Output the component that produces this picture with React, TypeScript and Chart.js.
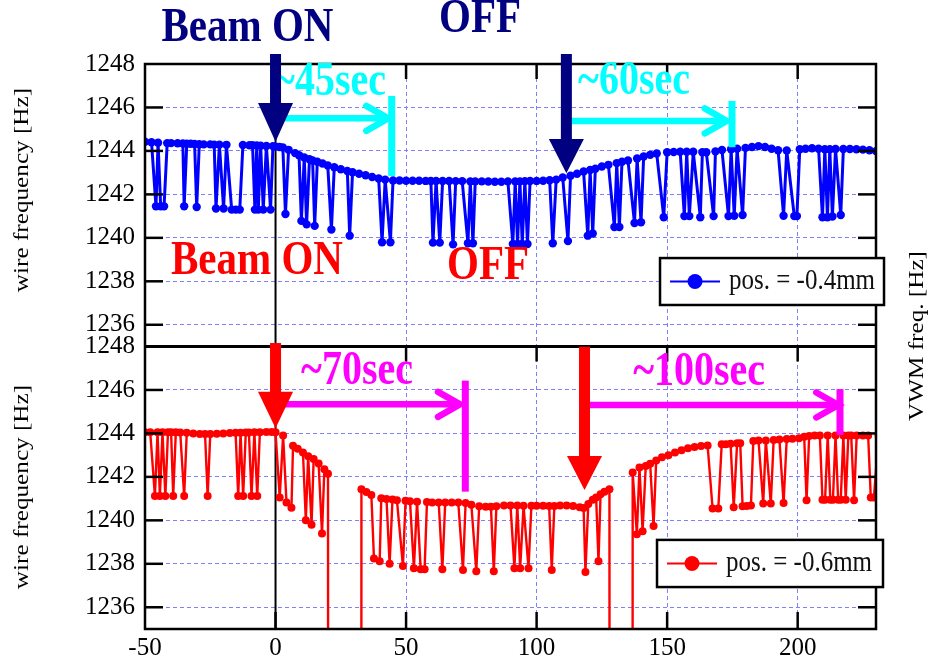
import React, { useEffect, useRef } from 'react';
import { Chart, registerables } from 'chart.js';

Chart.register(...registerables);

// ---------- data ----------
const xTicks = [-50, 0, 50, 100, 150, 200];
const yTicks = [1236, 1238, 1240, 1242, 1244, 1246, 1248];

// top panel: pos. = -0.4mm  [time (s), frequency (Hz)]
const bluePoints: [number, number][] = [
  [-50, 1244.42], [-47.5, 1244.4], [-45.8, 1241.45], [-45, 1244.38], [-44, 1241.45], [-42.7, 1241.45], [-41.5, 1244.36],
  [-40, 1244.36], [-37.5, 1244.35], [-35.5, 1244.34], [-35, 1241.45], [-34, 1244.33], [-32.5, 1244.33], [-31, 1244.32],
  [-30.2, 1241.42], [-29.2, 1244.31], [-27.5, 1244.3], [-25, 1244.3], [-23.5, 1244.29], [-22.8, 1241.35], [-21.5, 1244.29],
  [-19.9, 1241.35], [-18.8, 1244.28], [-16.8, 1241.3], [-15.2, 1241.3], [-13.7, 1241.3], [-12.5, 1244.27], [-10, 1244.26],
  [-8.8, 1244.26], [-7.9, 1241.3], [-7.2, 1244.25], [-6.6, 1241.3], [-5.7, 1244.24], [-4.7, 1241.3], [-3.5, 1244.23],
  [-1.9, 1241.3], [-1, 1244.22], [0, 1244.2], [1.5, 1244.18], [2.8, 1244.16], [3.8, 1241.1], [5, 1244.05], [7.5, 1243.9],
  [9, 1243.8], [9.9, 1240.78], [11, 1243.7], [11.9, 1240.62], [13, 1243.62], [14.2, 1243.56], [15, 1240.55], [16, 1243.5],
  [18, 1243.42], [20, 1243.33], [21.4, 1240.38], [22.5, 1243.25], [25, 1243.16], [27.5, 1243.08], [28.4, 1240.1],
  [29.5, 1243.02], [32, 1242.95], [34.5, 1242.88], [37, 1242.8], [39.5, 1242.73], [40.8, 1239.8], [42, 1242.68],
  [44, 1239.8], [45, 1242.64], [47.5, 1242.64], [50, 1242.63], [52.5, 1242.63], [55, 1242.63], [57.5, 1242.62],
  [59.5, 1242.62], [60.3, 1239.78], [61.5, 1242.62], [62.9, 1239.78], [64, 1242.62], [66.5, 1242.62], [68, 1239.7],
  [69, 1242.61], [71.5, 1242.61], [73.7, 1239.75], [74.6, 1242.6], [75.6, 1239.75], [76.5, 1242.6], [79, 1242.6],
  [81.5, 1242.59], [84, 1242.58], [86.5, 1242.58], [89, 1242.6], [90.9, 1239.72], [91.8, 1242.6], [92.7, 1239.72],
  [93.6, 1242.6], [94.5, 1239.72], [95.5, 1242.61], [96.5, 1239.72], [97.5, 1242.62], [100, 1242.62], [102.5, 1242.63],
  [105, 1242.65], [106.2, 1239.75], [107.5, 1242.68], [110, 1242.78], [112, 1239.85], [113, 1242.86], [115.5, 1242.95],
  [118, 1243.05], [119.6, 1240.1], [120.5, 1243.12], [121.5, 1240.2], [122.5, 1243.18], [125, 1243.28], [127.5, 1243.36],
  [129.8, 1240.5], [130.7, 1243.44], [131.7, 1240.5], [132.7, 1243.5], [135, 1243.56], [137.5, 1240.68], [138.5, 1243.65],
  [140, 1240.72], [141, 1243.74], [143.5, 1243.82], [146, 1243.88], [148.7, 1240.95], [150, 1243.94], [152.5, 1243.95],
  [155, 1243.96], [156.6, 1241.0], [157.5, 1243.96], [158.5, 1241.0], [160, 1243.96], [162.7, 1240.95], [163.5, 1243.94],
  [165, 1243.94], [167.8, 1241.0], [168.5, 1243.98], [171, 1244.04], [173.5, 1241.0], [174.5, 1244.08], [175.7, 1241.02],
  [176.8, 1244.1], [178.9, 1241.05], [180, 1244.14], [182.5, 1244.18], [185, 1244.22], [187.5, 1244.18], [190, 1244.1],
  [192.5, 1244.03], [194.6, 1241.02], [195.8, 1244.02], [198.7, 1241.0], [199.7, 1241.0], [200.8, 1244.08], [203, 1244.1],
  [205.5, 1244.12], [208, 1244.1], [209.5, 1240.95], [210.4, 1244.08], [211.4, 1240.95], [212.3, 1244.08], [213.3, 1240.98],
  [214.5, 1244.09], [216.5, 1241.05], [217.5, 1244.09], [220, 1244.09], [222.5, 1244.08], [225, 1244.06], [227.5, 1244.03],
  [230, 1243.99],
];

// bottom panel: pos. = -0.6mm  [time (s), frequency (Hz)]; 1100 = off-scale reading
const redPoints: [number, number][] = [
  [-50, 1244.05], [-48, 1244.05], [-46.2, 1241.12], [-45.2, 1244.05], [-44.3, 1241.12], [-43.3, 1244.05], [-42.2, 1241.12],
  [-41.2, 1244.05], [-40, 1244.05], [-39.2, 1241.12], [-38.2, 1244.05], [-36.5, 1244.04], [-35, 1241.12], [-34, 1244.03],
  [-31.5, 1244.0], [-29, 1243.97], [-27, 1243.97], [-26, 1241.12], [-25, 1243.97], [-22.5, 1243.98], [-20, 1244.0],
  [-17.5, 1244.02], [-15.3, 1244.03], [-14.3, 1241.12], [-13.4, 1244.03], [-12.4, 1241.12], [-11.4, 1244.04],
  [-10.2, 1244.04], [-9.2, 1241.12], [-8.1, 1244.05], [-7, 1241.12], [-6, 1244.05], [-3.5, 1244.06], [-1.5, 1244.06],
  [0, 1244.05], [1.6, 1241.05], [2.9, 1243.9], [4.2, 1240.82], [6.1, 1240.58], [6.7, 1243.43], [8.5, 1243.3],
  [10.5, 1243.12], [11.6, 1240.0], [12.5, 1242.95], [13.8, 1239.8], [14.6, 1242.82], [16.5, 1242.62], [17.8, 1239.4],
  [18.7, 1242.35], [20.1, 1242.15], [20.6, 1100], [32.5, 1100], [32.9, 1241.43], [34.8, 1241.3], [36.7, 1241.17],
  [37.7, 1238.25], [39.9, 1238.12], [40.5, 1241.02], [42.5, 1240.98], [43.7, 1238.0], [44.8, 1240.96], [46.5, 1240.92],
  [48.8, 1237.9], [49.8, 1240.9], [51.5, 1240.88], [53, 1237.8], [54.2, 1240.86], [55.6, 1237.75], [57.1, 1237.75],
  [58, 1240.84], [60, 1240.82], [62.5, 1240.82], [63.9, 1237.75], [65, 1240.82], [67.5, 1240.82], [70, 1240.82],
  [71.8, 1237.72], [72.8, 1240.8], [75, 1240.72], [76.9, 1237.66], [78, 1240.65], [80.5, 1240.63], [82.5, 1240.63],
  [83.6, 1237.66], [84.6, 1240.65], [87.5, 1240.68], [90, 1240.68], [91.5, 1237.8], [92.6, 1240.68], [93.7, 1237.8],
  [95, 1240.67], [96.9, 1237.8], [98, 1240.67], [100, 1240.67], [102.5, 1240.67], [104.8, 1240.66], [105.8, 1237.72],
  [106.8, 1240.66], [109, 1240.68], [111.5, 1240.68], [114, 1240.66], [116.5, 1240.6], [118, 1240.57], [118.7, 1237.62],
  [119.8, 1240.75], [121.5, 1240.95], [122.8, 1241.05], [123.7, 1238.12], [124.5, 1241.2], [126, 1241.32],
  [127.9, 1241.43], [128.3, 1100], [136.4, 1100], [136.8, 1242.2], [138.4, 1239.36], [139.4, 1242.43], [140.6, 1239.5],
  [141.8, 1242.5], [143.5, 1242.6], [144.8, 1239.74], [145.8, 1242.75], [148, 1242.9], [150.5, 1243.0], [153, 1243.12],
  [155.5, 1243.22], [158, 1243.32], [160.5, 1243.38], [163, 1243.42], [165.5, 1243.45], [167.4, 1240.55],
  [169.6, 1240.55], [170.9, 1243.5], [172.5, 1243.5], [174.3, 1243.52], [175.5, 1240.6], [176.8, 1243.55],
  [178, 1243.55], [178.9, 1240.65], [180.5, 1240.66], [182.1, 1240.68], [183, 1243.65], [185, 1243.67],
  [186.8, 1240.77], [187.8, 1243.68], [189.7, 1240.77], [190.8, 1243.7], [193, 1243.72], [194.6, 1240.8],
  [195.8, 1243.74], [198, 1243.76], [200.5, 1243.78], [202.5, 1243.85], [203.4, 1240.92], [204.4, 1243.88],
  [206.5, 1243.9], [208.5, 1243.9], [209.5, 1240.95], [210.5, 1240.95], [211.5, 1243.9], [212.5, 1240.95],
  [213.5, 1240.95], [214.5, 1243.9], [215.5, 1240.95], [216.5, 1240.95], [217.5, 1243.9], [218.4, 1240.95],
  [219.4, 1243.9], [220.5, 1243.9], [221.6, 1240.92], [222.6, 1243.9], [225, 1243.9], [227, 1243.9], [228, 1241.05],
  [229.2, 1241.05], [231, 1243.9],
];

// ---------- styles ----------
const SERIF = '"Liberation Serif", "Times New Roman", Times, serif';
const NAVY = '#000080';
const BLUE = '#0000ff';
const RED = '#ff0000';
const CYAN = '#00ffff';
const MAGENTA = '#ff00ff';
const GRID = '#8080ff';
const SY = 1.2; // vertical stretch of lettering in the original figure

// annotation anchors (data coordinates)
const beamArrows = [
  { axis: 'yTop', t: 0, top: 1248.46, head: 1246.2, tip: 1244.42, color: NAVY },
  { axis: 'yTop', t: 111.4, top: 1248.46, head: 1244.55, tip: 1242.97, color: NAVY },
  { axis: 'yBot', t: 0, top: 1248.16, head: 1245.92, tip: 1244.24, color: RED },
  { axis: 'yBot', t: 118.35, top: 1247.99, head: 1242.96, tip: 1241.4, color: RED },
];
const spans = [
  { axis: 'yTop', from: 0, to: 43.19, y: 1245.5, bar: 44.5, barTop: 1246.53, barBottom: 1242.85, color: CYAN, label: '~45sec', lx: 42.31, ly: 1247.13 },
  { axis: 'yTop', from: 111.4, to: 172.82, y: 1245.38, bar: 174.85, barTop: 1246.3, barBottom: 1244.17, color: CYAN, label: '~60sec', lx: 158.75, ly: 1247.17 },
  { axis: 'yBot', from: 0, to: 70.66, y: 1245.34, bar: 72.69, barTop: 1246.43, barBottom: 1241.32, color: MAGENTA, label: '~70sec', lx: 52.65, ly: 1246.83 },
  { axis: 'yBot', from: 118.35, to: 215.56, y: 1245.31, bar: 216.21, barTop: 1246.04, barBottom: 1243.93, color: MAGENTA, label: '~100sec', lx: 187.49, ly: 1246.78 },
];
const eventLabels = [
  { axis: 'yTop', t: -10.74, v: 1249.66, text: 'Beam ON', color: NAVY },
  { axis: 'yTop', t: 78.32, v: 1250.07, text: 'OFF', color: NAVY },
  { axis: 'yTop', t: -7.1, v: 1238.93, text: 'Beam ON', color: RED },
  { axis: 'yTop', t: 81.38, v: 1238.7, text: 'OFF', color: RED },
];
const legends = [
  { axis: 'yTop', t1: 147.27, v1: 1239.07, t2: 233.07, v2: 1236.91, color: BLUE, text: 'pos. = -0.4mm' },
  { axis: 'yBot', t1: 146.12, v1: 1239.1, t2: 232.68, v2: 1236.93, color: RED, text: 'pos. = -0.6mm' },
];

function drawText(ctx: any, s: string, x: number, y: number, size: number, color: string, align: string, bold: boolean, rot = 0) {
  ctx.save();
  ctx.translate(x, y);
  if (rot) {
    ctx.rotate(rot);
    ctx.scale(SY, 1);
  } else {
    ctx.scale(1, SY);
  }
  ctx.font = `${bold ? 'bold ' : ''}${size}px ${SERIF}`;
  ctx.fillStyle = color;
  ctx.textAlign = align;
  ctx.textBaseline = 'middle';
  ctx.fillText(s, 0, 0);
  ctx.restore();
}

function seg(ctx: any, x1: number, y1: number, x2: number, y2: number) {
  ctx.beginPath();
  ctx.moveTo(x1, y1);
  ctx.lineTo(x2, y2);
  ctx.stroke();
}

const decoPlugin = {
  id: 'deco',
  beforeDatasetsDraw(chart: any) {
    const { ctx, chartArea: a, scales } = chart;
    const x0 = scales.x.getPixelForValue(0);
    ctx.save();
    ctx.strokeStyle = '#000';
    ctx.lineWidth = 2;
    seg(ctx, x0, a.top, x0, a.bottom);
    ctx.restore();
  },
  afterDraw(chart: any) {
    const { ctx, chartArea: a, scales } = chart;
    const xs = scales.x;
    const panels = [scales.yTop, scales.yBot];
    ctx.save();

    // frame + inward ticks
    ctx.strokeStyle = '#000';
    ctx.lineWidth = 2.5;
    ctx.strokeRect(a.left, a.top, a.right - a.left, a.bottom - a.top);
    ctx.lineWidth = 3;
    seg(ctx, a.left, scales.yTop.bottom, a.right, scales.yTop.bottom);
    ctx.lineWidth = 2.5;
    panels.forEach((ys: any, i: number) => {
      yTicks.forEach((v) => {
        if (v >= 1248) return;
        const py = ys.getPixelForValue(v);
        seg(ctx, a.left, py, a.left + 18, py);
        seg(ctx, a.right - 18, py, a.right, py);
      });
      xTicks.forEach((t) => {
        if (t <= -50) return;
        const px = xs.getPixelForValue(t);
        seg(ctx, px, ys.top, px, ys.top + 15);
        if (i === 1) seg(ctx, px, ys.bottom, px, ys.bottom - 17);
      });
    });

    // axis titles
    drawText(ctx, 'wire frequency [Hz]', 22, 190, 21, '#000', 'center', false, -Math.PI / 2);
    drawText(ctx, 'wire frequency [Hz]', 22, 487, 21, '#000', 'center', false, -Math.PI / 2);
    drawText(ctx, 'VWM freq. [Hz]', 917, 336, 21, '#000', 'center', false, -Math.PI / 2);

    // span arrows with labels
    spans.forEach((s) => {
      const ys = scales[s.axis];
      const x1 = xs.getPixelForValue(s.from);
      const x2 = xs.getPixelForValue(s.to);
      const y = ys.getPixelForValue(s.y);
      ctx.strokeStyle = s.color;
      ctx.lineWidth = 6.5;
      ctx.lineCap = 'butt';
      seg(ctx, x1, y, x2 - 2, y);
      ctx.lineJoin = 'miter';
      ctx.lineCap = 'round';
      ctx.beginPath();
      ctx.moveTo(x2 - 22, y - 12.5);
      ctx.lineTo(x2, y);
      ctx.lineTo(x2 - 22, y + 12.5);
      ctx.stroke();
      ctx.lineCap = 'butt';
      ctx.lineWidth = 7;
      const bx = xs.getPixelForValue(s.bar);
      seg(ctx, bx, ys.getPixelForValue(s.barTop), bx, ys.getPixelForValue(s.barBottom));
      drawText(ctx, s.label, xs.getPixelForValue(s.lx), ys.getPixelForValue(s.ly), 40, s.color, 'right', true);
    });

    // event labels
    eventLabels.forEach((e) => {
      const ys = scales[e.axis];
      drawText(ctx, e.text, xs.getPixelForValue(e.t), ys.getPixelForValue(e.v), 41, e.color, 'center', true);
    });

    // beam arrows
    beamArrows.forEach((b) => {
      const ys = scales[b.axis];
      const x = xs.getPixelForValue(b.t);
      const yTop = ys.getPixelForValue(b.top);
      const yHead = ys.getPixelForValue(b.head);
      const yTip = ys.getPixelForValue(b.tip);
      ctx.fillStyle = b.color;
      ctx.fillRect(x - 5.5, yTop, 11, yHead - yTop + 1);
      ctx.beginPath();
      ctx.moveTo(x - 17.5, yHead);
      ctx.lineTo(x + 17.5, yHead);
      ctx.lineTo(x, yTip);
      ctx.closePath();
      ctx.fill();
    });

    // legends
    legends.forEach((l) => {
      const ys = scales[l.axis];
      const x1 = xs.getPixelForValue(l.t1);
      const x2 = xs.getPixelForValue(l.t2);
      const y1 = ys.getPixelForValue(l.v1);
      const y2 = ys.getPixelForValue(l.v2);
      ctx.fillStyle = '#fff';
      ctx.fillRect(x1, y1, x2 - x1, y2 - y1);
      ctx.strokeStyle = '#000';
      ctx.lineWidth = 2.5;
      ctx.strokeRect(x1, y1, x2 - x1, y2 - y1);
      const cy = (y1 + y2) / 2;
      ctx.strokeStyle = l.color;
      ctx.lineWidth = 2;
      seg(ctx, x1 + 10, cy, x1 + 60, cy);
      ctx.fillStyle = l.color;
      ctx.beginPath();
      ctx.arc(x1 + 35, cy, 7.5, 0, Math.PI * 2);
      ctx.fill();
      drawText(ctx, l.text, x1 + 69, cy, 25, '#111', 'left', false);
    });

    ctx.restore();
  },
};

function yAxis(weight: number) {
  return {
    type: 'linear',
    position: 'left',
    stack: 'panels',
    stackWeight: 1,
    weight,
    min: 1235,
    max: 1248,
    afterBuildTicks: (s: any) => {
      s.ticks = yTicks.map((v) => ({ value: v }));
    },
    afterFit: (s: any) => {
      s.width = 145;
    },
    grid: { color: GRID, lineWidth: 1, drawTicks: false },
    border: { display: false, dash: [4, 3] },
    ticks: {
      font: { family: SERIF, size: 25 },
      color: '#000',
      padding: 10,
      autoSkip: false,
      callback: (v: any) => String(v),
    },
  };
}

export default function App() {
  const ref = useRef<HTMLCanvasElement | null>(null);

  useEffect(() => {
    if (!ref.current) return;
    const chart = new Chart(ref.current, {
      type: 'line',
      data: {
        datasets: [
          {
            label: 'pos. = -0.4mm',
            data: bluePoints.map(([x, y]) => ({ x, y })),
            yAxisID: 'yTop',
            xAxisID: 'x',
            borderColor: BLUE,
            backgroundColor: BLUE,
            borderWidth: 3,
            pointRadius: 4.2,
            pointBorderWidth: 0,
            pointBackgroundColor: BLUE,
            tension: 0,
          },
          {
            label: 'pos. = -0.6mm',
            data: redPoints.map(([x, y]) => ({ x, y })),
            yAxisID: 'yBot',
            xAxisID: 'x',
            borderColor: RED,
            backgroundColor: RED,
            borderWidth: 2.4,
            pointRadius: 4,
            pointBorderWidth: 0,
            pointBackgroundColor: RED,
            tension: 0,
          },
        ],
      },
      options: {
        animation: false,
        responsive: true,
        maintainAspectRatio: false,
        devicePixelRatio: 1,
        layout: { padding: { top: 64, right: 54, left: 0, bottom: 0 } },
        plugins: { legend: { display: false }, tooltip: { enabled: false } },
        scales: {
          x: {
            type: 'linear',
            min: -50,
            max: 230,
            afterBuildTicks: (s: any) => {
              s.ticks = xTicks.map((v) => ({ value: v }));
            },
            afterFit: (s: any) => {
              s.height = 38;
            },
            grid: { color: GRID, lineWidth: 1, drawTicks: false },
            border: { display: false, dash: [4, 3] },
            ticks: {
              font: { family: SERIF, size: 25 },
              color: '#000',
              padding: 4,
              autoSkip: false,
              maxRotation: 0,
              callback: (v: any) => String(v),
            },
          },
          yTop: yAxis(2),
          yBot: yAxis(1),
        } as any,
      },
      plugins: [decoPlugin],
    } as any);
    return () => chart.destroy();
  }, []);

  return (
    <div style={{ position: 'fixed', left: 0, top: 0, width: 930, height: 667, background: '#fff' }}>
      <canvas ref={ref} />
    </div>
  );
}
